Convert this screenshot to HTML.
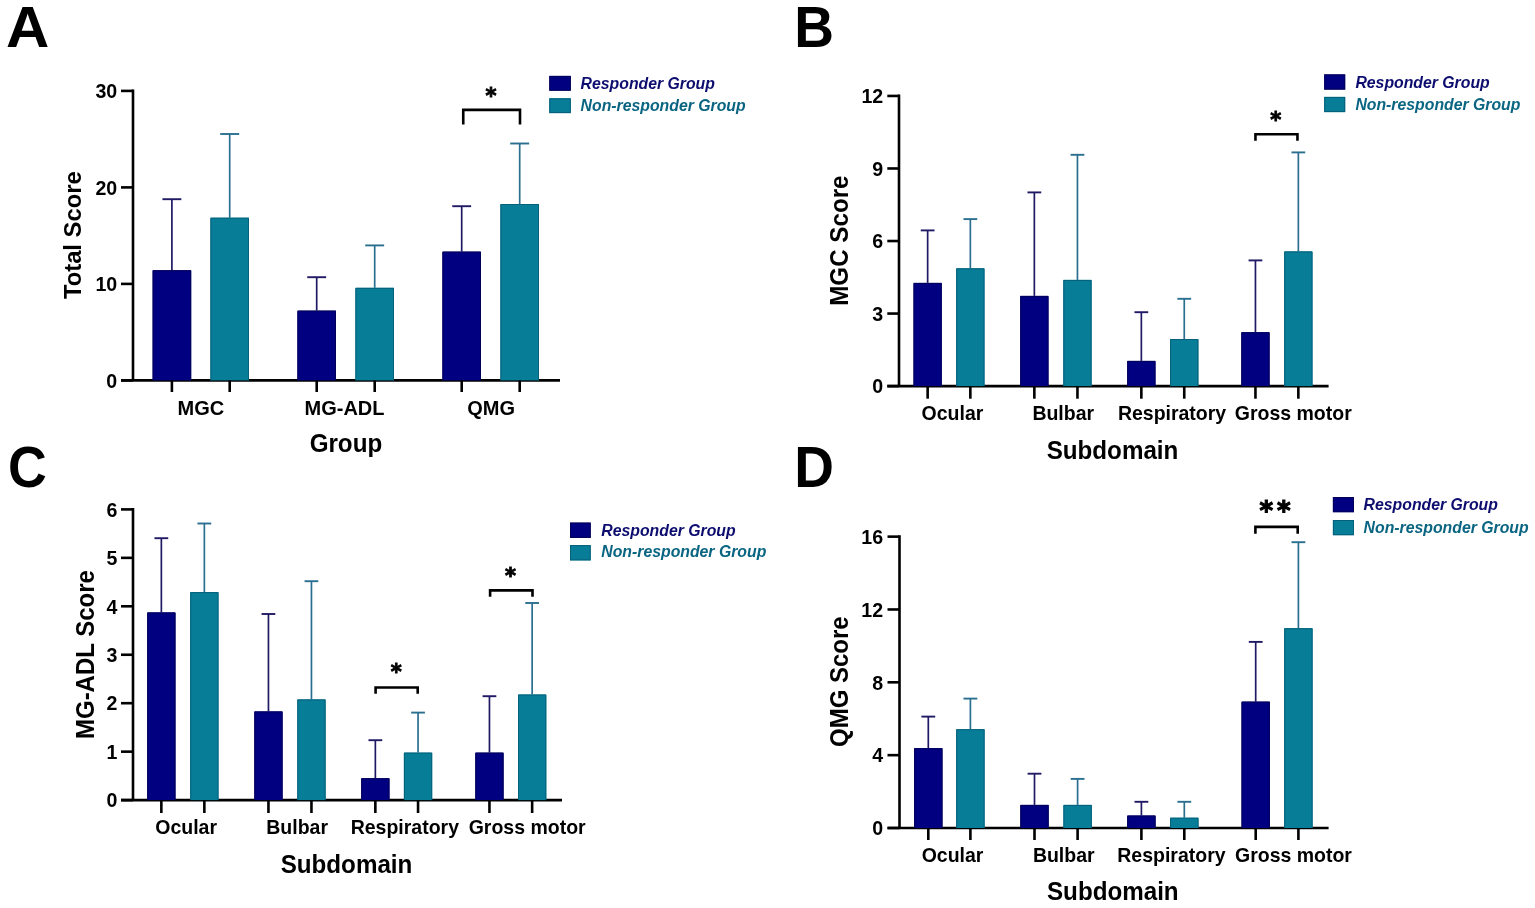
<!DOCTYPE html>
<html><head><meta charset="utf-8"><title>Figure</title>
<style>
html,body{margin:0;padding:0;background:#fff;}
body{width:1535px;height:908px;overflow:hidden;}
svg{display:block;font-family:'Liberation Sans', Arial, sans-serif;}
</style></head>
<body>
<svg width="1535" height="908" viewBox="0 0 1535 908">
<rect x="0" y="0" width="1535" height="908" fill="#fff"/>
<text transform="translate(5.90,46.90) scale(1.09,1.04)" font-size="55" font-weight="bold" text-anchor="start" fill="#000">A</text>
<line x1="133.00" y1="89.60" x2="133.00" y2="380.40" stroke="#000" stroke-width="2.6" stroke-linecap="butt"/>
<line x1="121.00" y1="380.40" x2="560.00" y2="380.40" stroke="#000" stroke-width="2.6" stroke-linecap="butt"/>
<line x1="121.00" y1="380.40" x2="133.00" y2="380.40" stroke="#000" stroke-width="2.6" stroke-linecap="butt"/>
<text transform="translate(117.20,387.61) scale(1.0,1.07)" font-size="19.6" font-weight="bold" text-anchor="end" fill="#000">0</text>
<line x1="121.00" y1="283.90" x2="133.00" y2="283.90" stroke="#000" stroke-width="2.6" stroke-linecap="butt"/>
<text transform="translate(117.20,291.11) scale(1.0,1.07)" font-size="19.6" font-weight="bold" text-anchor="end" fill="#000">10</text>
<line x1="121.00" y1="187.40" x2="133.00" y2="187.40" stroke="#000" stroke-width="2.6" stroke-linecap="butt"/>
<text transform="translate(117.20,194.61) scale(1.0,1.07)" font-size="19.6" font-weight="bold" text-anchor="end" fill="#000">20</text>
<line x1="121.00" y1="90.90" x2="133.00" y2="90.90" stroke="#000" stroke-width="2.6" stroke-linecap="butt"/>
<text transform="translate(117.20,98.11) scale(1.0,1.07)" font-size="19.6" font-weight="bold" text-anchor="end" fill="#000">30</text>
<line x1="171.90" y1="199.20" x2="171.90" y2="270.20" stroke="#201a64" stroke-width="1.7" stroke-linecap="butt"/>
<line x1="162.45" y1="199.20" x2="181.35" y2="199.20" stroke="#201a64" stroke-width="1.9" stroke-linecap="butt"/>
<rect x="152.60" y="270.20" width="38.60" height="110.20" fill="#000080"/>
<path d="M153.10,380.40 V270.70 H190.70 V380.40" fill="none" stroke="#000058" stroke-width="1"/>
<line x1="171.90" y1="380.40" x2="171.90" y2="392.00" stroke="#000" stroke-width="2.6" stroke-linecap="butt"/>
<line x1="229.70" y1="134.00" x2="229.70" y2="217.70" stroke="#2a6f90" stroke-width="1.7" stroke-linecap="butt"/>
<line x1="220.25" y1="134.00" x2="239.15" y2="134.00" stroke="#2a6f90" stroke-width="1.9" stroke-linecap="butt"/>
<rect x="210.40" y="217.70" width="38.60" height="162.70" fill="#077d97"/>
<path d="M210.90,380.40 V218.20 H248.50 V380.40" fill="none" stroke="#05607a" stroke-width="1"/>
<line x1="229.70" y1="380.40" x2="229.70" y2="392.00" stroke="#000" stroke-width="2.6" stroke-linecap="butt"/>
<line x1="316.70" y1="277.20" x2="316.70" y2="310.60" stroke="#201a64" stroke-width="1.7" stroke-linecap="butt"/>
<line x1="307.25" y1="277.20" x2="326.15" y2="277.20" stroke="#201a64" stroke-width="1.9" stroke-linecap="butt"/>
<rect x="297.40" y="310.60" width="38.60" height="69.80" fill="#000080"/>
<path d="M297.90,380.40 V311.10 H335.50 V380.40" fill="none" stroke="#000058" stroke-width="1"/>
<line x1="316.70" y1="380.40" x2="316.70" y2="392.00" stroke="#000" stroke-width="2.6" stroke-linecap="butt"/>
<line x1="374.70" y1="245.40" x2="374.70" y2="287.80" stroke="#2a6f90" stroke-width="1.7" stroke-linecap="butt"/>
<line x1="365.25" y1="245.40" x2="384.15" y2="245.40" stroke="#2a6f90" stroke-width="1.9" stroke-linecap="butt"/>
<rect x="355.40" y="287.80" width="38.60" height="92.60" fill="#077d97"/>
<path d="M355.90,380.40 V288.30 H393.50 V380.40" fill="none" stroke="#05607a" stroke-width="1"/>
<line x1="374.70" y1="380.40" x2="374.70" y2="392.00" stroke="#000" stroke-width="2.6" stroke-linecap="butt"/>
<line x1="461.70" y1="206.20" x2="461.70" y2="251.60" stroke="#201a64" stroke-width="1.7" stroke-linecap="butt"/>
<line x1="452.25" y1="206.20" x2="471.15" y2="206.20" stroke="#201a64" stroke-width="1.9" stroke-linecap="butt"/>
<rect x="442.40" y="251.60" width="38.60" height="128.80" fill="#000080"/>
<path d="M442.90,380.40 V252.10 H480.50 V380.40" fill="none" stroke="#000058" stroke-width="1"/>
<line x1="461.70" y1="380.40" x2="461.70" y2="392.00" stroke="#000" stroke-width="2.6" stroke-linecap="butt"/>
<line x1="519.70" y1="143.50" x2="519.70" y2="204.00" stroke="#2a6f90" stroke-width="1.7" stroke-linecap="butt"/>
<line x1="510.25" y1="143.50" x2="529.15" y2="143.50" stroke="#2a6f90" stroke-width="1.9" stroke-linecap="butt"/>
<rect x="500.40" y="204.00" width="38.60" height="176.40" fill="#077d97"/>
<path d="M500.90,380.40 V204.50 H538.50 V380.40" fill="none" stroke="#05607a" stroke-width="1"/>
<line x1="519.70" y1="380.40" x2="519.70" y2="392.00" stroke="#000" stroke-width="2.6" stroke-linecap="butt"/>
<text transform="translate(200.90,414.80) scale(1.0,1.04)" font-size="20" font-weight="bold" text-anchor="middle" fill="#000">MGC</text>
<text transform="translate(344.50,414.80) scale(1.0,1.04)" font-size="20" font-weight="bold" text-anchor="middle" fill="#000">MG-ADL</text>
<text transform="translate(491.20,414.80) scale(1.0,1.04)" font-size="20" font-weight="bold" text-anchor="middle" fill="#000">QMG</text>
<text transform="translate(345.90,451.70) scale(1.0,1.04)" font-size="24.2" font-weight="bold" text-anchor="middle" fill="#000">Group</text>
<text x="0" y="0" font-size="23.8" font-weight="bold" text-anchor="middle" fill="#000" transform="translate(80.70,235.20) rotate(-90) scale(1,1.04)">Total Score</text>
<polyline points="463.25,124.60 463.25,109.90 520.00,109.90 520.00,124.60" fill="none" stroke="#000" stroke-width="2.6" stroke-linejoin="miter"/>
<text x="491.10" y="103.30" font-size="21" font-weight="bold" font-family="'DejaVu Sans', sans-serif" text-anchor="middle" fill="#000" stroke="#000" stroke-width="0.9" letter-spacing="0">*</text>
<rect x="549.30" y="75.90" width="21.50" height="14.80" fill="#000080"/>
<rect x="549.30" y="98.30" width="21.50" height="14.80" fill="#077d97"/>
<rect x="549.80" y="76.40" width="20.50" height="13.80" fill="none" stroke="#000058" stroke-width="1"/>
<rect x="549.80" y="98.80" width="20.50" height="13.80" fill="none" stroke="#05607a" stroke-width="1"/>
<text transform="translate(580.60,88.80) scale(1.0,1.0)" font-size="15.8" font-weight="bold" font-style="italic" text-anchor="start" fill="#0d0d70">Responder Group</text>
<text transform="translate(580.60,111.20) scale(1.0,1.0)" font-size="15.8" font-weight="bold" font-style="italic" text-anchor="start" fill="#0a6582">Non-responder Group</text>
<text transform="translate(794.30,47.40) scale(1.0,1.04)" font-size="55" font-weight="bold" text-anchor="start" fill="#000">B</text>
<line x1="899.00" y1="94.60" x2="899.00" y2="386.10" stroke="#000" stroke-width="2.6" stroke-linecap="butt"/>
<line x1="887.30" y1="386.10" x2="1328.60" y2="386.10" stroke="#000" stroke-width="2.6" stroke-linecap="butt"/>
<line x1="887.30" y1="386.10" x2="899.00" y2="386.10" stroke="#000" stroke-width="2.6" stroke-linecap="butt"/>
<text transform="translate(883.20,393.31) scale(1.0,1.07)" font-size="19.6" font-weight="bold" text-anchor="end" fill="#000">0</text>
<line x1="887.30" y1="313.56" x2="899.00" y2="313.56" stroke="#000" stroke-width="2.6" stroke-linecap="butt"/>
<text transform="translate(883.20,320.77) scale(1.0,1.07)" font-size="19.6" font-weight="bold" text-anchor="end" fill="#000">3</text>
<line x1="887.30" y1="241.02" x2="899.00" y2="241.02" stroke="#000" stroke-width="2.6" stroke-linecap="butt"/>
<text transform="translate(883.20,248.23) scale(1.0,1.07)" font-size="19.6" font-weight="bold" text-anchor="end" fill="#000">6</text>
<line x1="887.30" y1="168.48" x2="899.00" y2="168.48" stroke="#000" stroke-width="2.6" stroke-linecap="butt"/>
<text transform="translate(883.20,175.69) scale(1.0,1.07)" font-size="19.6" font-weight="bold" text-anchor="end" fill="#000">9</text>
<line x1="887.30" y1="95.94" x2="899.00" y2="95.94" stroke="#000" stroke-width="2.6" stroke-linecap="butt"/>
<text transform="translate(883.20,103.15) scale(1.0,1.07)" font-size="19.6" font-weight="bold" text-anchor="end" fill="#000">12</text>
<line x1="927.65" y1="230.40" x2="927.65" y2="282.90" stroke="#201a64" stroke-width="1.7" stroke-linecap="butt"/>
<line x1="920.77" y1="230.40" x2="934.52" y2="230.40" stroke="#201a64" stroke-width="1.9" stroke-linecap="butt"/>
<rect x="913.50" y="282.90" width="28.30" height="103.20" fill="#000080"/>
<path d="M914.00,386.10 V283.40 H941.30 V386.10" fill="none" stroke="#000058" stroke-width="1"/>
<line x1="927.65" y1="386.10" x2="927.65" y2="398.70" stroke="#000" stroke-width="2.6" stroke-linecap="butt"/>
<line x1="970.35" y1="219.10" x2="970.35" y2="268.30" stroke="#2a6f90" stroke-width="1.7" stroke-linecap="butt"/>
<line x1="963.48" y1="219.10" x2="977.23" y2="219.10" stroke="#2a6f90" stroke-width="1.9" stroke-linecap="butt"/>
<rect x="956.20" y="268.30" width="28.30" height="117.80" fill="#077d97"/>
<path d="M956.70,386.10 V268.80 H984.00 V386.10" fill="none" stroke="#05607a" stroke-width="1"/>
<line x1="970.35" y1="386.10" x2="970.35" y2="398.70" stroke="#000" stroke-width="2.6" stroke-linecap="butt"/>
<line x1="1034.35" y1="192.40" x2="1034.35" y2="295.90" stroke="#201a64" stroke-width="1.7" stroke-linecap="butt"/>
<line x1="1027.48" y1="192.40" x2="1041.23" y2="192.40" stroke="#201a64" stroke-width="1.9" stroke-linecap="butt"/>
<rect x="1020.20" y="295.90" width="28.30" height="90.20" fill="#000080"/>
<path d="M1020.70,386.10 V296.40 H1048.00 V386.10" fill="none" stroke="#000058" stroke-width="1"/>
<line x1="1034.35" y1="386.10" x2="1034.35" y2="398.70" stroke="#000" stroke-width="2.6" stroke-linecap="butt"/>
<line x1="1077.45" y1="154.80" x2="1077.45" y2="279.90" stroke="#2a6f90" stroke-width="1.7" stroke-linecap="butt"/>
<line x1="1070.58" y1="154.80" x2="1084.33" y2="154.80" stroke="#2a6f90" stroke-width="1.9" stroke-linecap="butt"/>
<rect x="1063.30" y="279.90" width="28.30" height="106.20" fill="#077d97"/>
<path d="M1063.80,386.10 V280.40 H1091.10 V386.10" fill="none" stroke="#05607a" stroke-width="1"/>
<line x1="1077.45" y1="386.10" x2="1077.45" y2="398.70" stroke="#000" stroke-width="2.6" stroke-linecap="butt"/>
<line x1="1141.35" y1="312.20" x2="1141.35" y2="360.90" stroke="#201a64" stroke-width="1.7" stroke-linecap="butt"/>
<line x1="1134.48" y1="312.20" x2="1148.23" y2="312.20" stroke="#201a64" stroke-width="1.9" stroke-linecap="butt"/>
<rect x="1127.20" y="360.90" width="28.30" height="25.20" fill="#000080"/>
<path d="M1127.70,386.10 V361.40 H1155.00 V386.10" fill="none" stroke="#000058" stroke-width="1"/>
<line x1="1141.35" y1="386.10" x2="1141.35" y2="398.70" stroke="#000" stroke-width="2.6" stroke-linecap="butt"/>
<line x1="1184.25" y1="298.80" x2="1184.25" y2="339.00" stroke="#2a6f90" stroke-width="1.7" stroke-linecap="butt"/>
<line x1="1177.38" y1="298.80" x2="1191.12" y2="298.80" stroke="#2a6f90" stroke-width="1.9" stroke-linecap="butt"/>
<rect x="1170.10" y="339.00" width="28.30" height="47.10" fill="#077d97"/>
<path d="M1170.60,386.10 V339.50 H1197.90 V386.10" fill="none" stroke="#05607a" stroke-width="1"/>
<line x1="1184.25" y1="386.10" x2="1184.25" y2="398.70" stroke="#000" stroke-width="2.6" stroke-linecap="butt"/>
<line x1="1255.45" y1="260.40" x2="1255.45" y2="332.20" stroke="#201a64" stroke-width="1.7" stroke-linecap="butt"/>
<line x1="1248.58" y1="260.40" x2="1262.33" y2="260.40" stroke="#201a64" stroke-width="1.9" stroke-linecap="butt"/>
<rect x="1241.30" y="332.20" width="28.30" height="53.90" fill="#000080"/>
<path d="M1241.80,386.10 V332.70 H1269.10 V386.10" fill="none" stroke="#000058" stroke-width="1"/>
<line x1="1255.45" y1="386.10" x2="1255.45" y2="398.70" stroke="#000" stroke-width="2.6" stroke-linecap="butt"/>
<line x1="1298.35" y1="152.40" x2="1298.35" y2="251.40" stroke="#2a6f90" stroke-width="1.7" stroke-linecap="butt"/>
<line x1="1291.48" y1="152.40" x2="1305.23" y2="152.40" stroke="#2a6f90" stroke-width="1.9" stroke-linecap="butt"/>
<rect x="1284.20" y="251.40" width="28.30" height="134.70" fill="#077d97"/>
<path d="M1284.70,386.10 V251.90 H1312.00 V386.10" fill="none" stroke="#05607a" stroke-width="1"/>
<line x1="1298.35" y1="386.10" x2="1298.35" y2="398.70" stroke="#000" stroke-width="2.6" stroke-linecap="butt"/>
<text transform="translate(921.60,420.00) scale(1.0,1.04)" font-size="19.5" font-weight="bold" text-anchor="start" fill="#000">Ocular</text>
<text transform="translate(1032.40,420.00) scale(1.0,1.04)" font-size="19.5" font-weight="bold" text-anchor="start" fill="#000">Bulbar</text>
<text transform="translate(1117.90,420.00) scale(1.0,1.04)" font-size="19.5" font-weight="bold" text-anchor="start" fill="#000">Respiratory</text>
<text transform="translate(1234.80,420.00) scale(1.0,1.04)" font-size="19.5" font-weight="bold" text-anchor="start" fill="#000">Gross motor</text>
<text transform="translate(1112.50,458.70) scale(1.0,1.04)" font-size="24.2" font-weight="bold" text-anchor="middle" fill="#000">Subdomain</text>
<text x="0" y="0" font-size="24.2" font-weight="bold" text-anchor="middle" fill="#000" transform="translate(847.70,240.60) rotate(-90) scale(1,1.04)">MGC Score</text>
<polyline points="1255.45,140.80 1255.45,134.20 1297.45,134.20 1297.45,140.80" fill="none" stroke="#000" stroke-width="2.6" stroke-linejoin="miter"/>
<text x="1275.85" y="126.80" font-size="21" font-weight="bold" font-family="'DejaVu Sans', sans-serif" text-anchor="middle" fill="#000" stroke="#000" stroke-width="0.9" letter-spacing="0">*</text>
<rect x="1324.20" y="74.40" width="21.00" height="15.20" fill="#000080"/>
<rect x="1324.20" y="96.90" width="21.00" height="15.20" fill="#077d97"/>
<rect x="1324.70" y="74.90" width="20.00" height="14.20" fill="none" stroke="#000058" stroke-width="1"/>
<rect x="1324.70" y="97.40" width="20.00" height="14.20" fill="none" stroke="#05607a" stroke-width="1"/>
<text transform="translate(1355.40,87.70) scale(1.0,1.0)" font-size="15.8" font-weight="bold" font-style="italic" text-anchor="start" fill="#0d0d70">Responder Group</text>
<text transform="translate(1355.40,109.60) scale(1.0,1.0)" font-size="15.8" font-weight="bold" font-style="italic" text-anchor="start" fill="#0a6582">Non-responder Group</text>
<text transform="translate(8.00,486.50) scale(0.975,1.04)" font-size="55" font-weight="bold" text-anchor="start" fill="#000">C</text>
<line x1="133.00" y1="508.10" x2="133.00" y2="800.10" stroke="#000" stroke-width="2.6" stroke-linecap="butt"/>
<line x1="121.00" y1="800.10" x2="562.00" y2="800.10" stroke="#000" stroke-width="2.6" stroke-linecap="butt"/>
<line x1="121.00" y1="800.10" x2="133.00" y2="800.10" stroke="#000" stroke-width="2.6" stroke-linecap="butt"/>
<text transform="translate(117.40,807.31) scale(1.0,1.07)" font-size="19.6" font-weight="bold" text-anchor="end" fill="#000">0</text>
<line x1="121.00" y1="751.65" x2="133.00" y2="751.65" stroke="#000" stroke-width="2.6" stroke-linecap="butt"/>
<text transform="translate(117.40,758.86) scale(1.0,1.07)" font-size="19.6" font-weight="bold" text-anchor="end" fill="#000">1</text>
<line x1="121.00" y1="703.20" x2="133.00" y2="703.20" stroke="#000" stroke-width="2.6" stroke-linecap="butt"/>
<text transform="translate(117.40,710.41) scale(1.0,1.07)" font-size="19.6" font-weight="bold" text-anchor="end" fill="#000">2</text>
<line x1="121.00" y1="654.75" x2="133.00" y2="654.75" stroke="#000" stroke-width="2.6" stroke-linecap="butt"/>
<text transform="translate(117.40,661.96) scale(1.0,1.07)" font-size="19.6" font-weight="bold" text-anchor="end" fill="#000">3</text>
<line x1="121.00" y1="606.30" x2="133.00" y2="606.30" stroke="#000" stroke-width="2.6" stroke-linecap="butt"/>
<text transform="translate(117.40,613.51) scale(1.0,1.07)" font-size="19.6" font-weight="bold" text-anchor="end" fill="#000">4</text>
<line x1="121.00" y1="557.85" x2="133.00" y2="557.85" stroke="#000" stroke-width="2.6" stroke-linecap="butt"/>
<text transform="translate(117.40,565.06) scale(1.0,1.07)" font-size="19.6" font-weight="bold" text-anchor="end" fill="#000">5</text>
<line x1="121.00" y1="509.40" x2="133.00" y2="509.40" stroke="#000" stroke-width="2.6" stroke-linecap="butt"/>
<text transform="translate(117.40,516.61) scale(1.0,1.07)" font-size="19.6" font-weight="bold" text-anchor="end" fill="#000">6</text>
<line x1="161.35" y1="538.20" x2="161.35" y2="612.40" stroke="#201a64" stroke-width="1.7" stroke-linecap="butt"/>
<line x1="154.47" y1="538.20" x2="168.22" y2="538.20" stroke="#201a64" stroke-width="1.9" stroke-linecap="butt"/>
<rect x="147.20" y="612.40" width="28.30" height="187.70" fill="#000080"/>
<path d="M147.70,800.10 V612.90 H175.00 V800.10" fill="none" stroke="#000058" stroke-width="1"/>
<line x1="161.35" y1="800.10" x2="161.35" y2="813.00" stroke="#000" stroke-width="2.6" stroke-linecap="butt"/>
<line x1="204.35" y1="523.50" x2="204.35" y2="592.10" stroke="#2a6f90" stroke-width="1.7" stroke-linecap="butt"/>
<line x1="197.47" y1="523.50" x2="211.22" y2="523.50" stroke="#2a6f90" stroke-width="1.9" stroke-linecap="butt"/>
<rect x="190.20" y="592.10" width="28.30" height="208.00" fill="#077d97"/>
<path d="M190.70,800.10 V592.60 H218.00 V800.10" fill="none" stroke="#05607a" stroke-width="1"/>
<line x1="204.35" y1="800.10" x2="204.35" y2="813.00" stroke="#000" stroke-width="2.6" stroke-linecap="butt"/>
<line x1="268.45" y1="614.00" x2="268.45" y2="711.40" stroke="#201a64" stroke-width="1.7" stroke-linecap="butt"/>
<line x1="261.57" y1="614.00" x2="275.32" y2="614.00" stroke="#201a64" stroke-width="1.9" stroke-linecap="butt"/>
<rect x="254.30" y="711.40" width="28.30" height="88.70" fill="#000080"/>
<path d="M254.80,800.10 V711.90 H282.10 V800.10" fill="none" stroke="#000058" stroke-width="1"/>
<line x1="268.45" y1="800.10" x2="268.45" y2="813.00" stroke="#000" stroke-width="2.6" stroke-linecap="butt"/>
<line x1="311.45" y1="581.20" x2="311.45" y2="699.40" stroke="#2a6f90" stroke-width="1.7" stroke-linecap="butt"/>
<line x1="304.57" y1="581.20" x2="318.32" y2="581.20" stroke="#2a6f90" stroke-width="1.9" stroke-linecap="butt"/>
<rect x="297.30" y="699.40" width="28.30" height="100.70" fill="#077d97"/>
<path d="M297.80,800.10 V699.90 H325.10 V800.10" fill="none" stroke="#05607a" stroke-width="1"/>
<line x1="311.45" y1="800.10" x2="311.45" y2="813.00" stroke="#000" stroke-width="2.6" stroke-linecap="butt"/>
<line x1="375.35" y1="740.20" x2="375.35" y2="778.20" stroke="#201a64" stroke-width="1.7" stroke-linecap="butt"/>
<line x1="368.47" y1="740.20" x2="382.22" y2="740.20" stroke="#201a64" stroke-width="1.9" stroke-linecap="butt"/>
<rect x="361.20" y="778.20" width="28.30" height="21.90" fill="#000080"/>
<path d="M361.70,800.10 V778.70 H389.00 V800.10" fill="none" stroke="#000058" stroke-width="1"/>
<line x1="375.35" y1="800.10" x2="375.35" y2="813.00" stroke="#000" stroke-width="2.6" stroke-linecap="butt"/>
<line x1="418.05" y1="712.60" x2="418.05" y2="752.60" stroke="#2a6f90" stroke-width="1.7" stroke-linecap="butt"/>
<line x1="411.17" y1="712.60" x2="424.92" y2="712.60" stroke="#2a6f90" stroke-width="1.9" stroke-linecap="butt"/>
<rect x="403.90" y="752.60" width="28.30" height="47.50" fill="#077d97"/>
<path d="M404.40,800.10 V753.10 H431.70 V800.10" fill="none" stroke="#05607a" stroke-width="1"/>
<line x1="418.05" y1="800.10" x2="418.05" y2="813.00" stroke="#000" stroke-width="2.6" stroke-linecap="butt"/>
<line x1="489.45" y1="696.20" x2="489.45" y2="752.60" stroke="#201a64" stroke-width="1.7" stroke-linecap="butt"/>
<line x1="482.57" y1="696.20" x2="496.32" y2="696.20" stroke="#201a64" stroke-width="1.9" stroke-linecap="butt"/>
<rect x="475.30" y="752.60" width="28.30" height="47.50" fill="#000080"/>
<path d="M475.80,800.10 V753.10 H503.10 V800.10" fill="none" stroke="#000058" stroke-width="1"/>
<line x1="489.45" y1="800.10" x2="489.45" y2="813.00" stroke="#000" stroke-width="2.6" stroke-linecap="butt"/>
<line x1="532.15" y1="603.00" x2="532.15" y2="694.50" stroke="#2a6f90" stroke-width="1.7" stroke-linecap="butt"/>
<line x1="525.27" y1="603.00" x2="539.02" y2="603.00" stroke="#2a6f90" stroke-width="1.9" stroke-linecap="butt"/>
<rect x="518.00" y="694.50" width="28.30" height="105.60" fill="#077d97"/>
<path d="M518.50,800.10 V695.00 H545.80 V800.10" fill="none" stroke="#05607a" stroke-width="1"/>
<line x1="532.15" y1="800.10" x2="532.15" y2="813.00" stroke="#000" stroke-width="2.6" stroke-linecap="butt"/>
<text transform="translate(155.30,833.80) scale(1.0,1.04)" font-size="19.5" font-weight="bold" text-anchor="start" fill="#000">Ocular</text>
<text transform="translate(266.30,833.80) scale(1.0,1.04)" font-size="19.5" font-weight="bold" text-anchor="start" fill="#000">Bulbar</text>
<text transform="translate(350.70,833.80) scale(1.0,1.04)" font-size="19.5" font-weight="bold" text-anchor="start" fill="#000">Respiratory</text>
<text transform="translate(468.70,833.80) scale(1.0,1.04)" font-size="19.5" font-weight="bold" text-anchor="start" fill="#000">Gross motor</text>
<text transform="translate(346.50,872.70) scale(1.0,1.04)" font-size="24.2" font-weight="bold" text-anchor="middle" fill="#000">Subdomain</text>
<text x="0" y="0" font-size="24.0" font-weight="bold" text-anchor="middle" fill="#000" transform="translate(93.50,654.60) rotate(-90) scale(1,1.04)">MG-ADL Score</text>
<polyline points="375.60,693.80 375.60,687.50 417.70,687.50 417.70,693.80" fill="none" stroke="#000" stroke-width="2.6" stroke-linejoin="miter"/>
<text x="396.20" y="679.40" font-size="21" font-weight="bold" font-family="'DejaVu Sans', sans-serif" text-anchor="middle" fill="#000" stroke="#000" stroke-width="0.9" letter-spacing="0">*</text>
<polyline points="490.10,596.70 490.10,590.35 532.50,590.35 532.50,596.70" fill="none" stroke="#000" stroke-width="2.6" stroke-linejoin="miter"/>
<text x="510.60" y="583.20" font-size="21" font-weight="bold" font-family="'DejaVu Sans', sans-serif" text-anchor="middle" fill="#000" stroke="#000" stroke-width="0.9" letter-spacing="0">*</text>
<rect x="570.00" y="522.60" width="20.70" height="15.30" fill="#000080"/>
<rect x="570.00" y="545.10" width="20.70" height="15.30" fill="#077d97"/>
<rect x="570.50" y="523.10" width="19.70" height="14.30" fill="none" stroke="#000058" stroke-width="1"/>
<rect x="570.50" y="545.60" width="19.70" height="14.30" fill="none" stroke="#05607a" stroke-width="1"/>
<text transform="translate(601.30,535.50) scale(1.0,1.0)" font-size="15.8" font-weight="bold" font-style="italic" text-anchor="start" fill="#0d0d70">Responder Group</text>
<text transform="translate(601.30,557.30) scale(1.0,1.0)" font-size="15.8" font-weight="bold" font-style="italic" text-anchor="start" fill="#0a6582">Non-responder Group</text>
<text transform="translate(794.30,486.70) scale(1.0,1.04)" font-size="55" font-weight="bold" text-anchor="start" fill="#000">D</text>
<line x1="899.50" y1="535.20" x2="899.50" y2="828.00" stroke="#000" stroke-width="2.6" stroke-linecap="butt"/>
<line x1="887.50" y1="828.00" x2="1328.60" y2="828.00" stroke="#000" stroke-width="2.6" stroke-linecap="butt"/>
<line x1="887.50" y1="828.00" x2="899.50" y2="828.00" stroke="#000" stroke-width="2.6" stroke-linecap="butt"/>
<text transform="translate(883.10,835.21) scale(1.0,1.07)" font-size="19.6" font-weight="bold" text-anchor="end" fill="#000">0</text>
<line x1="887.50" y1="755.16" x2="899.50" y2="755.16" stroke="#000" stroke-width="2.6" stroke-linecap="butt"/>
<text transform="translate(883.10,762.37) scale(1.0,1.07)" font-size="19.6" font-weight="bold" text-anchor="end" fill="#000">4</text>
<line x1="887.50" y1="682.32" x2="899.50" y2="682.32" stroke="#000" stroke-width="2.6" stroke-linecap="butt"/>
<text transform="translate(883.10,689.53) scale(1.0,1.07)" font-size="19.6" font-weight="bold" text-anchor="end" fill="#000">8</text>
<line x1="887.50" y1="609.48" x2="899.50" y2="609.48" stroke="#000" stroke-width="2.6" stroke-linecap="butt"/>
<text transform="translate(883.10,616.69) scale(1.0,1.07)" font-size="19.6" font-weight="bold" text-anchor="end" fill="#000">12</text>
<line x1="887.50" y1="536.64" x2="899.50" y2="536.64" stroke="#000" stroke-width="2.6" stroke-linecap="butt"/>
<text transform="translate(883.10,543.85) scale(1.0,1.07)" font-size="19.6" font-weight="bold" text-anchor="end" fill="#000">16</text>
<line x1="928.30" y1="716.60" x2="928.30" y2="748.10" stroke="#201a64" stroke-width="1.7" stroke-linecap="butt"/>
<line x1="921.40" y1="716.60" x2="935.20" y2="716.60" stroke="#201a64" stroke-width="1.9" stroke-linecap="butt"/>
<rect x="914.10" y="748.10" width="28.40" height="79.90" fill="#000080"/>
<path d="M914.60,828.00 V748.60 H942.00 V828.00" fill="none" stroke="#000058" stroke-width="1"/>
<line x1="928.30" y1="828.00" x2="928.30" y2="840.00" stroke="#000" stroke-width="2.6" stroke-linecap="butt"/>
<line x1="970.40" y1="698.60" x2="970.40" y2="729.20" stroke="#2a6f90" stroke-width="1.7" stroke-linecap="butt"/>
<line x1="963.50" y1="698.60" x2="977.30" y2="698.60" stroke="#2a6f90" stroke-width="1.9" stroke-linecap="butt"/>
<rect x="956.20" y="729.20" width="28.40" height="98.80" fill="#077d97"/>
<path d="M956.70,828.00 V729.70 H984.10 V828.00" fill="none" stroke="#05607a" stroke-width="1"/>
<line x1="970.40" y1="828.00" x2="970.40" y2="840.00" stroke="#000" stroke-width="2.6" stroke-linecap="butt"/>
<line x1="1034.50" y1="773.70" x2="1034.50" y2="804.90" stroke="#201a64" stroke-width="1.7" stroke-linecap="butt"/>
<line x1="1027.60" y1="773.70" x2="1041.40" y2="773.70" stroke="#201a64" stroke-width="1.9" stroke-linecap="butt"/>
<rect x="1020.30" y="804.90" width="28.40" height="23.10" fill="#000080"/>
<path d="M1020.80,828.00 V805.40 H1048.20 V828.00" fill="none" stroke="#000058" stroke-width="1"/>
<line x1="1034.50" y1="828.00" x2="1034.50" y2="840.00" stroke="#000" stroke-width="2.6" stroke-linecap="butt"/>
<line x1="1077.60" y1="778.90" x2="1077.60" y2="804.90" stroke="#2a6f90" stroke-width="1.7" stroke-linecap="butt"/>
<line x1="1070.70" y1="778.90" x2="1084.50" y2="778.90" stroke="#2a6f90" stroke-width="1.9" stroke-linecap="butt"/>
<rect x="1063.40" y="804.90" width="28.40" height="23.10" fill="#077d97"/>
<path d="M1063.90,828.00 V805.40 H1091.30 V828.00" fill="none" stroke="#05607a" stroke-width="1"/>
<line x1="1077.60" y1="828.00" x2="1077.60" y2="840.00" stroke="#000" stroke-width="2.6" stroke-linecap="butt"/>
<line x1="1141.40" y1="801.80" x2="1141.40" y2="815.50" stroke="#201a64" stroke-width="1.7" stroke-linecap="butt"/>
<line x1="1134.50" y1="801.80" x2="1148.30" y2="801.80" stroke="#201a64" stroke-width="1.9" stroke-linecap="butt"/>
<rect x="1127.20" y="815.50" width="28.40" height="12.50" fill="#000080"/>
<path d="M1127.70,828.00 V816.00 H1155.10 V828.00" fill="none" stroke="#000058" stroke-width="1"/>
<line x1="1141.40" y1="828.00" x2="1141.40" y2="840.00" stroke="#000" stroke-width="2.6" stroke-linecap="butt"/>
<line x1="1184.30" y1="801.80" x2="1184.30" y2="817.70" stroke="#2a6f90" stroke-width="1.7" stroke-linecap="butt"/>
<line x1="1177.40" y1="801.80" x2="1191.20" y2="801.80" stroke="#2a6f90" stroke-width="1.9" stroke-linecap="butt"/>
<rect x="1170.10" y="817.70" width="28.40" height="10.30" fill="#077d97"/>
<path d="M1170.60,828.00 V818.20 H1198.00 V828.00" fill="none" stroke="#05607a" stroke-width="1"/>
<line x1="1184.30" y1="828.00" x2="1184.30" y2="840.00" stroke="#000" stroke-width="2.6" stroke-linecap="butt"/>
<line x1="1255.70" y1="641.90" x2="1255.70" y2="701.60" stroke="#201a64" stroke-width="1.7" stroke-linecap="butt"/>
<line x1="1248.80" y1="641.90" x2="1262.60" y2="641.90" stroke="#201a64" stroke-width="1.9" stroke-linecap="butt"/>
<rect x="1241.50" y="701.60" width="28.40" height="126.40" fill="#000080"/>
<path d="M1242.00,828.00 V702.10 H1269.40 V828.00" fill="none" stroke="#000058" stroke-width="1"/>
<line x1="1255.70" y1="828.00" x2="1255.70" y2="840.00" stroke="#000" stroke-width="2.6" stroke-linecap="butt"/>
<line x1="1298.40" y1="542.20" x2="1298.40" y2="628.20" stroke="#2a6f90" stroke-width="1.7" stroke-linecap="butt"/>
<line x1="1291.50" y1="542.20" x2="1305.30" y2="542.20" stroke="#2a6f90" stroke-width="1.9" stroke-linecap="butt"/>
<rect x="1284.20" y="628.20" width="28.40" height="199.80" fill="#077d97"/>
<path d="M1284.70,828.00 V628.70 H1312.10 V828.00" fill="none" stroke="#05607a" stroke-width="1"/>
<line x1="1298.40" y1="828.00" x2="1298.40" y2="840.00" stroke="#000" stroke-width="2.6" stroke-linecap="butt"/>
<text transform="translate(921.70,861.60) scale(1.0,1.04)" font-size="19.5" font-weight="bold" text-anchor="start" fill="#000">Ocular</text>
<text transform="translate(1032.90,861.60) scale(1.0,1.04)" font-size="19.5" font-weight="bold" text-anchor="start" fill="#000">Bulbar</text>
<text transform="translate(1117.30,861.60) scale(1.0,1.04)" font-size="19.5" font-weight="bold" text-anchor="start" fill="#000">Respiratory</text>
<text transform="translate(1235.00,861.60) scale(1.0,1.04)" font-size="19.5" font-weight="bold" text-anchor="start" fill="#000">Gross motor</text>
<text transform="translate(1112.80,899.50) scale(1.0,1.04)" font-size="24.2" font-weight="bold" text-anchor="middle" fill="#000">Subdomain</text>
<text x="0" y="0" font-size="24.0" font-weight="bold" text-anchor="middle" fill="#000" transform="translate(847.80,681.70) rotate(-90) scale(1,1.04)">QMG Score</text>
<polyline points="1255.40,533.80 1255.40,526.85 1297.70,526.85 1297.70,533.80" fill="none" stroke="#000" stroke-width="2.6" stroke-linejoin="miter"/>
<text x="1277.00" y="520.00" font-size="26" font-weight="bold" font-family="'DejaVu Sans', sans-serif" text-anchor="middle" fill="#000" stroke="#000" stroke-width="1.1" letter-spacing="4">**</text>
<rect x="1332.90" y="497.00" width="21.10" height="15.20" fill="#000080"/>
<rect x="1332.90" y="520.00" width="21.10" height="15.20" fill="#077d97"/>
<rect x="1333.40" y="497.50" width="20.10" height="14.20" fill="none" stroke="#000058" stroke-width="1"/>
<rect x="1333.40" y="520.50" width="20.10" height="14.20" fill="none" stroke="#05607a" stroke-width="1"/>
<text transform="translate(1363.60,510.20) scale(1.0,1.0)" font-size="15.8" font-weight="bold" font-style="italic" text-anchor="start" fill="#0d0d70">Responder Group</text>
<text transform="translate(1363.60,532.50) scale(1.0,1.0)" font-size="15.8" font-weight="bold" font-style="italic" text-anchor="start" fill="#0a6582">Non-responder Group</text>
</svg>
</body></html>
